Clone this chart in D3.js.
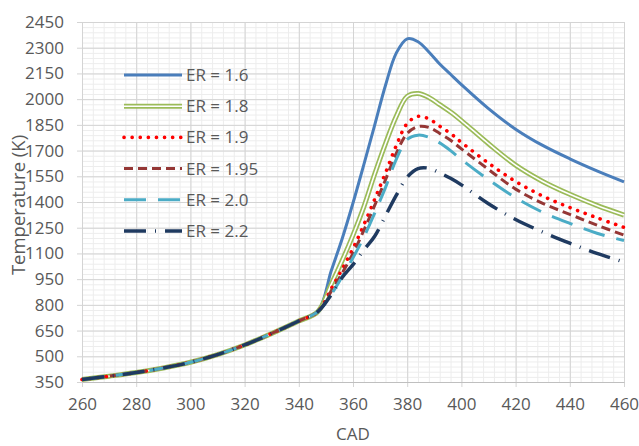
<!DOCTYPE html>
<html>
<head>
<meta charset="utf-8">
<script src="https://cdnjs.cloudflare.com/ajax/libs/d3/7.8.5/d3.min.js"></script>
<style>
body { margin: 0; background: #fff; }
text { font-family: "Open Sans", sans-serif; fill: #595959; }
</style>
</head>
<body>
<div id="figure"></div>
<script>
var cad = [260, 270, 280, 290, 300, 310, 320, 330, 340, 347, 352, 356, 360, 364, 368, 372, 376, 380, 384, 388, 392, 396, 400, 410, 420, 430, 440, 450, 460];

var er16  = [365, 384, 405, 432, 465, 510, 566, 633, 706, 760, 1000, 1186, 1394, 1618, 1848, 2081, 2270, 2352, 2335, 2275, 2205, 2145, 2085, 1945, 1825, 1730, 1652, 1582, 1518];
var er18  = [365, 384, 405, 432, 465, 510, 566, 633, 706, 760, 921, 1058, 1207, 1372, 1563, 1741, 1901, 2016, 2033, 2010, 1968, 1925, 1875, 1740, 1615, 1520, 1445, 1380, 1324];
var er19  = [365, 384, 405, 432, 465, 510, 566, 633, 706, 760, 895, 1008, 1129, 1267, 1416, 1570, 1730, 1858, 1900, 1885, 1842, 1800, 1748, 1627, 1520, 1435, 1368, 1308, 1252];
var er195 = [365, 384, 405, 432, 465, 510, 566, 633, 706, 760, 880, 985, 1100, 1235, 1380, 1530, 1685, 1800, 1840, 1835, 1800, 1760, 1710, 1590, 1475, 1392, 1328, 1265, 1207];
var er20  = [365, 384, 405, 432, 465, 510, 566, 633, 706, 760, 862, 965, 1075, 1195, 1335, 1485, 1650, 1765, 1790, 1778, 1745, 1700, 1648, 1530, 1425, 1340, 1275, 1218, 1175];
var er22  = [365, 384, 405, 432, 465, 510, 566, 633, 706, 760, 860, 960, 1035, 1120, 1200, 1320, 1440, 1545, 1595, 1597, 1570, 1538, 1500, 1390, 1298, 1225, 1160, 1100, 1050];

var seriesNames = ["ER = 1.6", "ER = 1.8", "ER = 1.9", "ER = 1.95", "ER = 2.0", "ER = 2.2"];
var seriesValues = [er16, er18, er19, er195, er20, er22];

var xTicks = [260, 280, 300, 320, 340, 360, 380, 400, 420, 440, 460];
var yTicks = [350, 500, 650, 800, 950, 1100, 1250, 1400, 1550, 1700, 1850, 2000, 2150, 2300, 2450];

var w = 639;
var h = 446;
var margin = { top: 22, right: 15, bottom: 64, left: 82 };
var chartWidth = w - margin.left - margin.right;
var chartHeight = h - margin.top - margin.bottom;

// line styles, one per series
var styles = [
	{ color: "#4a7ebb", width: 3, dash: null },
	{ color: "#9bbb59", width: 5, dash: null, inner: "#fff" },
	{ color: "#ff0000", width: 3.6, dash: "0.1 8", cap: "round" },
	{ color: "#953735", width: 3, dash: "9 5" },
	{ color: "#4bacc6", width: 3, dash: "22 12" },
	{ color: "#1f3a60", width: 3.5, dash: "22 9 1 9" }
];

var svg = d3.select('#figure')
	.append('svg')
	.attr('width', w)
	.attr('height', h);

var chart = svg.append('g')
	.attr('transform', 'translate(' + margin.left + ',' + margin.top + ')');

var xScale = d3.scaleLinear()
	.domain([260, 460])
	.range([0, chartWidth]);

var yScale = d3.scaleLinear()
	.domain([350, 2450])
	.range([chartHeight, 0]);

// minor gridlines
chart.append('g')
	.call(d3.axisBottom(xScale).tickValues(d3.range(260, 461, 4)).tickSize(chartHeight).tickFormat(""))
	.call(function(g){ g.select('.domain').remove(); })
	.selectAll('line').attr('stroke', '#ededed');

chart.append('g')
	.call(d3.axisLeft(yScale).tickValues(d3.range(350, 2451, 30)).tickSize(-chartWidth).tickFormat(""))
	.call(function(g){ g.select('.domain').remove(); })
	.selectAll('line').attr('stroke', '#ededed');

// major gridlines (with small tick marks outside the plot)
chart.append('g')
	.call(d3.axisBottom(xScale).tickValues(xTicks).tickSize(chartHeight + 5).tickFormat(""))
	.call(function(g){ g.select('.domain').remove(); })
	.selectAll('line').attr('stroke', '#d4d4d4');

chart.append('g')
	.attr('transform', 'translate(-5,0)')
	.call(d3.axisLeft(yScale).tickValues(yTicks).tickSize(-(chartWidth + 5)).tickFormat(""))
	.call(function(g){ g.select('.domain').remove(); })
	.selectAll('line').attr('stroke', '#d4d4d4');

// axes labels
var xAxis = chart.append('g')
	.attr('transform', 'translate(0,' + chartHeight + ')')
	.call(d3.axisBottom(xScale).tickValues(xTicks).tickSize(0).tickPadding(16).tickFormat(d3.format('d')));
xAxis.select('.domain').attr('stroke', '#bfbfbf');
xAxis.selectAll('text').attr('font-size', 17).attr('font-family', '"Open Sans", sans-serif').attr('fill', '#595959');

var yAxis = chart.append('g')
	.call(d3.axisLeft(yScale).tickValues(yTicks).tickSize(0).tickPadding(18).tickFormat(d3.format('d')));
yAxis.select('.domain').remove();
yAxis.selectAll('text').attr('font-size', 17).attr('font-family', '"Open Sans", sans-serif').attr('fill', '#595959');

svg.append('text')
	.attr('transform', 'translate(25,205) rotate(-90)')
	.attr('text-anchor', 'middle')
	.attr('font-size', 18.5)
	.text('Temperature (K)');

svg.append('text')
	.attr('x', 353)
	.attr('y', 440)
	.attr('text-anchor', 'middle')
	.attr('font-size', 17)
	.text('CAD');

// lines
var line = d3.line()
	.x(function(d, i){ return xScale(cad[i]); })
	.y(function(d){ return yScale(d); })
	.curve(d3.curveCatmullRom.alpha(0.5));

function strokeIt(sel, s){
	sel.attr('fill', 'none')
		.attr('stroke', s.color)
		.attr('stroke-width', s.width)
		.attr('stroke-linecap', s.cap || 'butt')
		.attr('stroke-linejoin', 'round')
		.attr('stroke-dasharray', s.dash);
}

seriesValues.forEach(function(vals, i){
	var s = styles[i];
	chart.append('path').attr('d', line(vals)).call(strokeIt, s);
	if(s.inner){
		chart.append('path').attr('d', line(vals))
			.attr('fill', 'none').attr('stroke', s.inner).attr('stroke-width', 1.6);
	}
});

// legend
var legend = svg.append('g').attr('transform', 'translate(124,75)');
seriesNames.forEach(function(name, i){
	var s = styles[i];
	var row = legend.append('g').attr('transform', 'translate(0,' + (i * 31.2) + ')');
	row.append('line').attr('x1', 0).attr('x2', 58).attr('y1', 0).attr('y2', 0).call(strokeIt, s);
	if(s.inner){
		row.append('line').attr('x1', 0).attr('x2', 58).attr('y1', 0).attr('y2', 0)
			.attr('stroke', s.inner).attr('stroke-width', 1.6);
	}
	row.append('text')
		.attr('x', 62)
		.attr('y', 6)
		.attr('font-size', 17)
		.text(name);
});
</script>
</body>
</html>
